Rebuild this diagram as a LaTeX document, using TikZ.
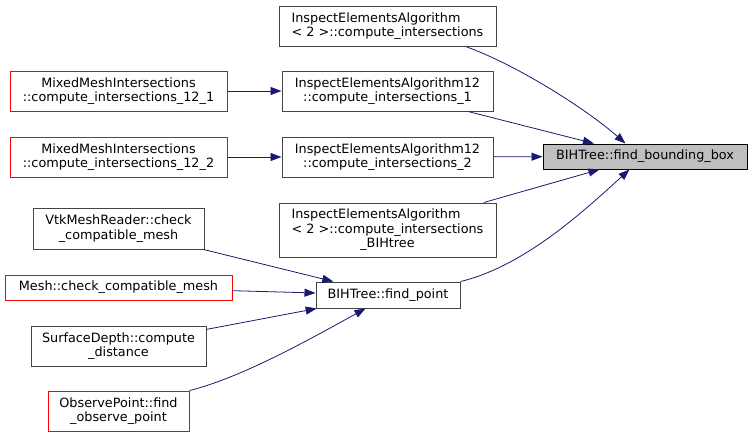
\documentclass[tikz,border=0pt]{standalone}
\usepackage{fontspec}
\setmainfont{DejaVu Sans}
\usetikzlibrary{arrows.meta,calc}
\definecolor{edgeblue}{HTML}{191970}
\definecolor{nodegray}{HTML}{444444}
\definecolor{mainfill}{HTML}{BFBFBF}
\begin{document}
\begin{tikzpicture}[x=1pt,y=-1pt,
  box/.style={draw=nodegray, line width=1pt, fill=white, inner sep=0pt, align=center,
    font=\fontsize{12.8}{14.6}\selectfont, text=black},
  redbox/.style={box, draw=red},
  mainbox/.style={box, draw=black, fill=mainfill},
  conn/.style={draw=edgeblue, line width=0.8pt, -{Triangle[length=11pt,width=8pt]}}]
\useasboundingbox (0,0) rectangle (752,437);

\node[box, minimum width=217pt, minimum height=40pt] (ieaA) at (387.5,26)
  {\rlap{InspectElementsAlgorithm}\phantom{< 2 >::compute\_intersections}\\< 2 >::compute\_intersections};
\node[box, minimum width=211pt, minimum height=40pt] (iea1) at (387.5,91)
  {InspectElementsAlgorithm12\\::compute\_intersections\_1};
\node[box, minimum width=211pt, minimum height=40pt] (iea2) at (387.5,157)
  {InspectElementsAlgorithm12\\::compute\_intersections\_2};
\node[box, minimum width=217pt, minimum height=54pt] (ieaB) at (387.5,230)
  {\rlap{InspectElementsAlgorithm}\phantom{< 2 >::compute\_intersections}\\< 2 >::compute\_intersections\\\_BIHtree};
\node[mainbox, minimum width=204pt, minimum height=25pt] (fbb) at (645,156.5)
  {BIHTree::find\_bounding\_box};
\node[redbox, minimum width=217pt, minimum height=40pt] (mix1) at (118.5,91)
  {MixedMeshIntersections\\::compute\_intersections\_12\_1};
\node[redbox, minimum width=217pt, minimum height=40pt] (mix2) at (118.5,157)
  {MixedMeshIntersections\\::compute\_intersections\_12\_2};
\node[box, minimum width=171pt, minimum height=41pt] (vtk) at (118.5,228.5)
  {VtkMeshReader::check\\\_compatible\_mesh};
\node[redbox, minimum width=227pt, minimum height=25pt] (mesh) at (118.5,287.5)
  {Mesh::check\_compatible\_mesh};
\node[box, minimum width=175pt, minimum height=40pt] (sdepth) at (118.5,346)
  {SurfaceDepth::compute\\\_distance};
\node[redbox, minimum width=141pt, minimum height=40pt] (obs) at (118.5,411)
  {ObservePoint::find\\\_observe\_point};
\node[box, minimum width=144pt, minimum height=26pt] (fp) at (388,295)
  {BIHTree::find\_point};

\draw[conn] ($(ieaA.south west)+(187,0)$) .. controls (515,64) and (585,108) .. ($(fbb.north west)+(83,0)$);
\draw[conn] (iea1) -- (fbb);
\draw[conn] (iea2) -- (fbb);
\draw[conn] (ieaB) -- (fbb);
\draw[conn] (fp.north east) .. controls (525,266) and (585,210) .. ($(fbb.south west)+(87,0)$);
\draw[conn] (mix1) -- (iea1);
\draw[conn] (mix2) -- (iea2);
\draw[conn] (vtk) -- (fp);
\draw[conn] (mesh) -- (fp);
\draw[conn] (sdepth) -- (fp);
\draw[conn] (obs.north east) .. controls (240,378) and (305,342) .. ($(fp.south west)+(50,0)$);
\end{tikzpicture}
\end{document}
